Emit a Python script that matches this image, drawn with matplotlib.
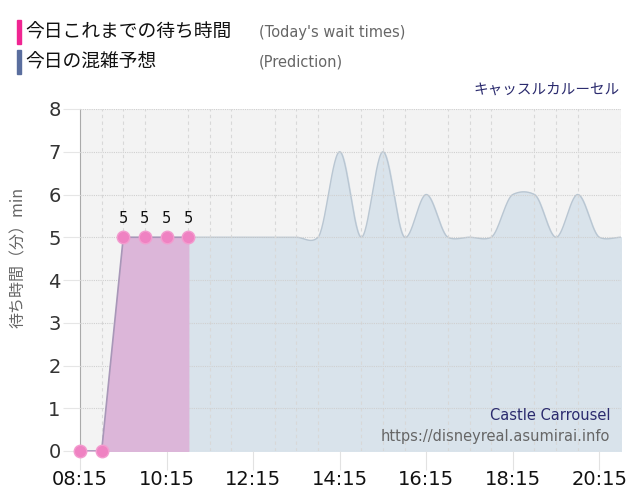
import numpy as np
import matplotlib.pyplot as plt

JP = ['Noto Sans CJK JP', 'DejaVu Sans']

# today's actual wait times
actual_times = ["08:15", "08:45", "09:15", "09:45", "10:15", "10:45"]
actual_vals = [0, 0, 5, 5, 5, 5]

# prediction
pred_times = ["10:45", "11:15", "11:45", "12:15", "12:45", "13:15", "13:45",
              "14:15", "14:45", "15:15", "15:45", "16:15", "16:45", "17:15",
              "17:45", "18:15", "18:45", "19:15", "19:45", "20:15", "20:45"]
pred_vals = [5, 5, 5, 5, 5, 5, 5, 7, 5, 7, 5, 6, 5, 5, 5, 6, 6, 5, 6, 5, 5]

xtick_labels = ["08:15", "10:15", "12:15", "14:15", "16:15", "18:15", "20:15"]


def to_min(t):
    h, m = t.split(":")
    return int(h) * 60 + int(m) - (8 * 60 + 15)


# cardinal spline through the points, only for drawing the smooth line
def smooth(x, y, c=0.25, n=30):
    x = np.asarray(x, float)
    y = np.asarray(y, float)
    xs, ys = [], []
    for i in range(len(x) - 1):
        p0 = y[i - 1] if i > 0 else y[i]
        p1, p2 = y[i], y[i + 1]
        p3 = y[i + 2] if i + 2 < len(y) else y[i + 1]
        m1 = c * (p2 - p0)
        m2 = c * (p3 - p1)
        t = np.linspace(0, 1, n, endpoint=False)
        h00 = 2 * t ** 3 - 3 * t ** 2 + 1
        h10 = t ** 3 - 2 * t ** 2 + t
        h01 = -2 * t ** 3 + 3 * t ** 2
        h11 = t ** 3 - t ** 2
        xs.append(x[i] + (x[i + 1] - x[i]) * t)
        ys.append(h00 * p1 + h10 * m1 + h01 * p2 + h11 * m2)
    xs.append([x[-1]])
    ys.append([y[-1]])
    return np.concatenate(xs), np.concatenate(ys)


fig = plt.figure(figsize=(6.4, 5.0), dpi=100)
ax = fig.add_axes([80 / 640, 49 / 500, 541 / 640, 342 / 500])
ax.set_facecolor("#f3f3f3")

ax_x = [to_min(t) for t in actual_times]
px = [to_min(t) for t in pred_times]
sx, sy = smooth(px, pred_vals)

ax.fill_between(sx, 0, sy, color="#d9e3eb", zorder=1)
ax.plot(sx, sy, color="#b9c6d2", lw=1, zorder=2)

ax.fill_between(ax_x, 0, actual_vals, color="#dcb6d9", zorder=3)
ax.plot(ax_x, actual_vals, color="#a897b8", lw=1.2, zorder=4)
ax.plot(ax_x, actual_vals, "o", ms=9, color="#ef82c2", mec="#f39ccf", mew=1,
        zorder=5, clip_on=False)
for xv, yv in zip(ax_x, actual_vals):
    if yv > 0:
        ax.text(xv, yv + 0.27, str(yv), ha="center", va="bottom", fontsize=10.5,
                color="#111111", zorder=6)

ax.set_xlim(0, 750)
ax.set_ylim(0, 8)

ax.set_xticks([to_min(t) for t in xtick_labels])
ax.set_xticklabels(xtick_labels, fontsize=14, color="#111111")
ax.set_xticks(np.arange(0, 751, 30), minor=True)
ax.tick_params(axis="x", which="major", length=14, color="#e2e2e2", pad=0)
ax.tick_params(axis="x", which="minor", length=0)
ax.set_yticks(range(0, 9))
ax.tick_params(axis="y", length=12, color="#e6e6e6", labelsize=14,
               labelcolor="#333333", pad=2)

ax.grid(axis="x", which="minor", ls=(0, (3, 3)), color="#d8d8d8", lw=0.8, zorder=7)
ax.grid(axis="y", which="major", ls=(0, (1, 1)), color="#d0d0d0", lw=0.8, zorder=7)
ax.set_axisbelow(False)

for s in ["top", "right", "bottom"]:
    ax.spines[s].set_visible(False)
ax.spines["left"].set_color("#aaaaaa")

# y label
fig.text(18 / 640, 1 - 257 / 500, "待ち時間（分）min", rotation=90, ha="center",
         va="center", fontsize=11.5, color="#666666", family=JP)

# legend
fig.patches.append(plt.Rectangle((17 / 640, 1 - 44 / 500), 4 / 640, 24 / 500,
                                 transform=fig.transFigure, color="#f02592"))
fig.patches.append(plt.Rectangle((17 / 640, 1 - 74 / 500), 4 / 640, 24 / 500,
                                 transform=fig.transFigure, color="#5a6e9e"))
fig.text(25 / 640, 1 - 32 / 500, "今日これまでの待ち時間", fontsize=13.5,
         va="center", color="#111111", family=JP)
fig.text(25 / 640, 1 - 62 / 500, "今日の混雑予想", fontsize=13.5,
         va="center", color="#111111", family=JP)
fig.text(259 / 640, 1 - 32 / 500, "(Today's wait times)", fontsize=10.5,
         va="center", color="#666666")
fig.text(259 / 640, 1 - 62 / 500, "(Prediction)", fontsize=10.5,
         va="center", color="#666666")

fig.text(620 / 640, 1 - 90 / 500, "キャッスルカルーセル", fontsize=10.5,
         ha="right", va="center", color="#2b2b6e", family=JP)

fig.text(610 / 640, 1 - 415 / 500, "Castle Carrousel", fontsize=10.5,
         ha="right", va="center", color="#2b2b6e")
fig.text(610 / 640, 1 - 436 / 500, "https://disneyreal.asumirai.info", fontsize=10.5,
         ha="right", va="center", color="#666666")

fig.savefig("out.png", dpi=100)
